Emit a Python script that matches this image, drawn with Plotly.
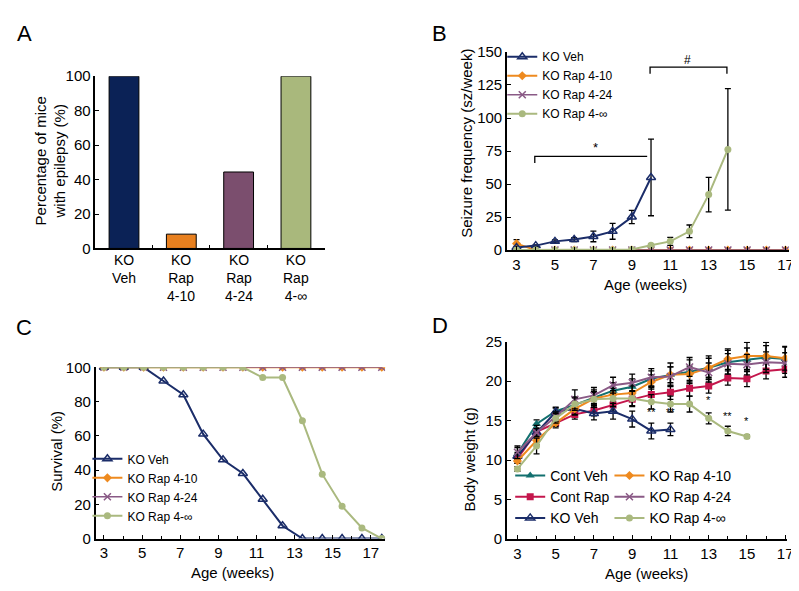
import plotly.graph_objects as go

# ---- data ----
# A: percentage of mice with epilepsy
groups_a = ["KO<br>Veh", "KO<br>Rap<br>4-10", "KO<br>Rap<br>4-24", "KO<br>Rap<br>4-\u221e"]
epilepsy_pct = [100, 8.3, 44.4, 100]

# B: seizure frequency (sz/week)
weeks_b = list(range(3, 18))
seiz_veh = [2, 3.4, 6.6, 8, 10.3, 14.2, 25, 55]
seiz_veh_err = [0.8, 0.5, 1.2, 1.5, 4, 6, 5, 29]
seiz_rap10 = [4.9] + [0] * 14
seiz_rap10_err = [3] + [0] * 14
seiz_rap24 = [0] * 15
seiz_rapinf = [0, 0, 0, 0, 0, 0, 0.5, 3.7, 6.6, 14.2, 42, 76.2]
seiz_rapinf_err = [0, 0, 0, 0, 0, 0, 0.3, 1, 3, 4.8, 13, 46]

# C: survival (%)
weeks_c = list(range(3, 18))
surv_veh = [100, 100, 100, 92, 84, 61, 46, 38, 23, 7.5, 0, 0, 0, 0, 0]
surv_rap10 = [100] * 15
surv_rap24 = [100] * 15
surv_rapinf = [100, 100, 100, 100, 100, 100, 100, 100, 94, 94, 68.8, 37.6, 18.9, 6.2, 0]
c_tick_scale = 0.9605  # label spacing vs point spacing in panel C

# D: body weight (g)
weeks_d = list(range(3, 18))
bw_cont_veh = [10.8, 14.6, 16.2, 17.0, 17.9, 18.8, 19.3, 20.3, 20.8, 21.2, 21.7, 22.4, 22.7, 23.0, 22.8]
bw_cont_veh_err = [0.8, 0.5, 0.5, 1.0, 1.0, 1.0, 1.0, 1.0, 1.5, 1.5, 1.5, 1.5, 1.5, 1.5, 1.5]
bw_cont_rap = [10.2, 13.6, 14.7, 15.8, 16.3, 17.0, 17.7, 18.3, 18.6, 19.1, 19.4, 20.4, 20.3, 21.3, 21.5]
bw_cont_rap_err = [0.6, 0.8, 0.6, 0.6, 0.7, 0.8, 0.8, 0.9, 0.9, 1.0, 0.9, 0.9, 1.0, 1.0, 1.0]
bw_ko_veh = [10.5, 13.5, 16.1, 16.5, 15.9, 16.2, 15.2, 13.7, 13.9]
bw_ko_veh_err = [0.5, 0.5, 0.5, 0.7, 0.8, 1.0, 1.0, 1.0, 0.8]
bw_rap10 = [9.9, 12.5, 14.7, 16.5, 17.8, 18.3, 18.5, 19.9, 20.8, 20.9, 21.7, 22.8, 23.2, 23.2, 22.9]
bw_rap10_err = [0.3, 0.5, 0.4, 0.8, 0.8, 0.8, 0.9, 0.9, 1.0, 1.0, 1.2, 1.3, 1.7, 1.7, 1.5]
bw_rap24 = [11.0, 13.5, 15.5, 17.7, 18.2, 19.5, 19.8, 20.5, 20.6, 21.8, 21.1, 22.2, 22.1, 22.4, 22.3]
bw_rap24_err = [0.8, 0.5, 0.6, 1.2, 1.0, 1.0, 1.1, 1.1, 1.2, 1.2, 1.2, 1.3, 1.3, 1.3, 1.3]
bw_rapinf = [8.9, 11.8, 15.3, 17.1, 17.7, 17.8, 17.8, 17.4, 17.1, 17.1, 15.3, 13.7, 13.0]
bw_rapinf_err = [0.3, 1.0, 0.6, 0.8, 1.0, 1.0, 1.0, 0.9, 1.0, 1.0, 0.7, 0.6, 0.2]
sig_weeks = [10, 11, 13, 14, 15]
sig_marks = ["**", "**", "*", "**", "*"]
sig_y = [15.1, 15.1, 16.6, 14.6, 13.9]

# colours
NAVY = "#1b2d69"
ORANGE = "#ee8a1f"
PURPLE = "#8a5a86"
GREEN = "#aab97f"
TEAL = "#13706f"
CRIMSON = "#c4164c"
BAR_COLS = ["#0b2256", "#e8801f", "#7b4e6e", "#a9b87c"]

FONT = "Liberation Sans, Arial, sans-serif"

fig = go.Figure()

# ---- A ----
fig.add_trace(go.Bar(x=groups_a, y=epilepsy_pct, marker=dict(color=BAR_COLS, line=dict(color="black", width=1)),
                     width=0.52, showlegend=False, xaxis="x", yaxis="y"))


def err(vals):
    return dict(type="data", array=vals, color="black", thickness=1.3, width=3)


# ---- B ----
fig.add_trace(go.Scatter(x=weeks_b, y=seiz_rap10, error_y=err(seiz_rap10_err), name="KO Rap 4-10",
                         mode="lines+markers", line=dict(color=ORANGE, width=2),
                         marker=dict(symbol="diamond", size=7, color=ORANGE),
                         xaxis="x2", yaxis="y2", legend="legend", legendrank=2))
fig.add_trace(go.Scatter(x=weeks_b, y=seiz_rap24, name="KO Rap 4-24",
                         mode="lines+markers", line=dict(color=PURPLE, width=1.5),
                         marker=dict(symbol="x-thin", size=7, line=dict(color=PURPLE, width=1.5)),
                         xaxis="x2", yaxis="y2", legend="legend", legendrank=3))
fig.add_trace(go.Scatter(x=weeks_b[:len(seiz_veh)], y=seiz_veh, error_y=err(seiz_veh_err), name="KO Veh",
                         mode="lines+markers", line=dict(color=NAVY, width=2),
                         marker=dict(symbol="triangle-up-open", size=8, color=NAVY, line=dict(width=1.5)),
                         xaxis="x2", yaxis="y2", legend="legend", legendrank=1))
fig.add_trace(go.Scatter(x=weeks_b[:len(seiz_rapinf)], y=seiz_rapinf, error_y=err(seiz_rapinf_err), name="KO Rap 4-\u221e",
                         mode="lines+markers", line=dict(color=GREEN, width=2),
                         marker=dict(symbol="circle", size=7, color=GREEN),
                         xaxis="x2", yaxis="y2", legend="legend", legendrank=4))

# ---- C ----
fig.add_trace(go.Scatter(x=weeks_c, y=surv_veh, name="KO Veh", mode="lines+markers",
                         line=dict(color=NAVY, width=2),
                         marker=dict(symbol="triangle-up-open", size=8, color=NAVY, line=dict(width=1.5)),
                         xaxis="x3", yaxis="y3", legend="legend2", legendrank=1))
fig.add_trace(go.Scatter(x=weeks_c, y=surv_rap10, name="KO Rap 4-10", mode="lines+markers",
                         line=dict(color=ORANGE, width=2), marker=dict(symbol="diamond", size=7, color=ORANGE),
                         xaxis="x3", yaxis="y3", legend="legend2", legendrank=2))
fig.add_trace(go.Scatter(x=weeks_c, y=surv_rap24, name="KO Rap 4-24", mode="lines+markers",
                         line=dict(color=PURPLE, width=1.5),
                         marker=dict(symbol="x-thin", size=7, line=dict(color=PURPLE, width=1.5)),
                         xaxis="x3", yaxis="y3", legend="legend2", legendrank=3))
fig.add_trace(go.Scatter(x=weeks_c, y=surv_rapinf, name="KO Rap 4-\u221e", mode="lines+markers",
                         line=dict(color=GREEN, width=2), marker=dict(symbol="circle", size=7, color=GREEN),
                         xaxis="x3", yaxis="y3", legend="legend2", legendrank=4))

# ---- D ----
d_series = [
    ("Cont Veh", bw_cont_veh, bw_cont_veh_err, TEAL, "triangle-up", "legend3", 1),
    ("Cont Rap", bw_cont_rap, bw_cont_rap_err, CRIMSON, "square", "legend3", 2),
    ("KO Veh", bw_ko_veh, bw_ko_veh_err, NAVY, "triangle-up-open", "legend3", 3),
    ("KO Rap 4-10", bw_rap10, bw_rap10_err, ORANGE, "diamond", "legend4", 1),
    ("KO Rap 4-24", bw_rap24, bw_rap24_err, PURPLE, "x-thin", "legend4", 2),
    ("KO Rap 4-\u221e", bw_rapinf, bw_rapinf_err, GREEN, "circle", "legend4", 3),
]
for name, vals, errs, col, sym, leg, rank in d_series:
    mk = dict(symbol=sym, size=8 if "triangle" in sym else 7, color=col)
    if sym in ("x-thin", "triangle-up-open"):
        mk["line"] = dict(color=col, width=1.5)
    fig.add_trace(go.Scatter(x=weeks_d[:len(vals)], y=vals, error_y=err(errs), name=name,
                             mode="lines+markers", line=dict(color=col, width=2), marker=mk,
                             xaxis="x4", yaxis="y4", legend=leg, legendrank=rank))

# ---- annotations ----
ann = []
def paper_text(text, x, y, size=15, angle=0, xanchor="center", yanchor="middle"):
    ann.append(dict(text=text, x=x / 799, y=1 - y / 591, xref="paper", yref="paper", showarrow=False,
                    textangle=angle, xanchor=xanchor, yanchor=yanchor, font=dict(size=size, family=FONT)))

for letter, px, py in [("A", 17, 17), ("B", 435, 17), ("C", 16, 320), ("D", 435, 318)]:
    paper_text(letter, px, py, size=22)

paper_text("Percentage of mice<br>with epilepsy (%)", 43, 148, angle=-90)
paper_text("Seizure frequency (sz/week)", 462, 130, angle=-90)
paper_text("Survival (%)", 49, 447, angle=-90)
paper_text("Body weight (g)", 465, 456, angle=-90)
paper_text("Age (weeks)", 642, 275)
paper_text("Age (weeks)", 226, 572)
paper_text("Age (weeks)", 643, 573)

# category labels of A
for i, lab in enumerate(groups_a):
    ann.append(dict(text=lab, x=i, y=1 - 240 / 591, xref="x", yref="paper", showarrow=False,
                    yanchor="top", font=dict(size=14, family=FONT)))

# significance in B
ann.append(dict(text="*", x=7.1, y=78, xref="x2", yref="y2", showarrow=False, font=dict(size=13, family=FONT)))
ann.append(dict(text="#", x=11.9, y=144, xref="x2", yref="y2", showarrow=False, font=dict(size=12, family=FONT)))
for wk, mark, yv in zip(sig_weeks, sig_marks, sig_y):
    ann.append(dict(text=mark, x=wk, y=yv, xref="x4", yref="y4", showarrow=False, yanchor="bottom",
                    font=dict(size=11, family=FONT, color="black")))

shapes = [
    dict(type="path", path="M 3.95,66 L 3.95,71 L 9.8,71", xref="x2", yref="y2", line=dict(color="black", width=1.3)),
    dict(type="path", path="M 9.95,133.5 L 9.95,138.5 L 13.95,138.5 L 13.95,133.5", xref="x2", yref="y2",
         line=dict(color="black", width=1.3)),
]

axis_common = dict(showline=True, linecolor="black", linewidth=1.5, ticks="inside", ticklen=4, tickwidth=1,
                   tickcolor="black", showgrid=False, zeroline=False, tickfont=dict(size=15, family=FONT, color="black"))

leg_common = dict(bgcolor="rgba(0,0,0,0)", traceorder="normal", itemwidth=30, tracegroupgap=0)

fig.update_layout(
    width=799, height=591, margin=dict(l=0, r=0, t=0, b=0),
    paper_bgcolor="white", plot_bgcolor="white",
    font=dict(family=FONT, color="black"),
    bargap=0.48,
    xaxis=dict(domain=[88 / 799, 319 / 799], anchor="y", range=[-0.5, 3.5], tickson="boundaries",
               showticklabels=False, **axis_common),
    yaxis=dict(domain=[1 - 238.3 / 591, 1 - 61 / 591], anchor="x", range=[0, 100], dtick=20, **axis_common),
    xaxis2=dict(domain=[502.7 / 799, 786.7 / 799], anchor="y2", range=[2.5, 17.17],
                tickvals=list(range(3, 18, 2)), minor=dict(tickvals=weeks_b, ticks="inside", ticklen=3),
                **axis_common),
    yaxis2=dict(domain=[1 - 240 / 591, 1 - 36 / 591], anchor="x2", range=[0, 150], dtick=25, **axis_common),
    xaxis3=dict(domain=[88.3 / 799, 380 / 799], anchor="y3", range=[2.58, 17.17],
                tickvals=[3 + (w - 3) * c_tick_scale for w in range(3, 18, 2)],
                ticktext=[str(w) for w in range(3, 18, 2)],
                minor=dict(tickvals=[3 + (w - 3) * c_tick_scale for w in weeks_c], ticks="inside", ticklen=3),
                **axis_common),
    yaxis3=dict(domain=[1 - 537 / 591, 1 - 360.7 / 591], anchor="x3", range=[0, 100], dtick=20, **axis_common),
    xaxis4=dict(domain=[502.7 / 799, 785 / 799], anchor="y4", range=[2.45, 17.1],
                tickvals=list(range(3, 18, 2)), minor=dict(tickvals=weeks_d, ticks="inside", ticklen=3),
                **axis_common),
    yaxis4=dict(domain=[1 - 537.7 / 591, 1 - 334.3 / 591], anchor="x4", range=[0, 25], dtick=5, **axis_common),
    legend=dict(x=498 / 799, y=1 - 26 / 591, xanchor="left", yanchor="top", font=dict(size=12, family=FONT), **leg_common),
    legend2=dict(x=80 / 799, y=1 - 440 / 591, xanchor="left", yanchor="top", font=dict(size=12, family=FONT), **leg_common),
    legend3=dict(x=506 / 799, y=1 - 456 / 591, xanchor="left", yanchor="top", font=dict(size=14, family=FONT), **leg_common),
    legend4=dict(x=606 / 799, y=1 - 456 / 591, xanchor="left", yanchor="top", font=dict(size=14, family=FONT), **leg_common),
    annotations=ann,
    shapes=shapes,
)

fig.write_html("out.html")
